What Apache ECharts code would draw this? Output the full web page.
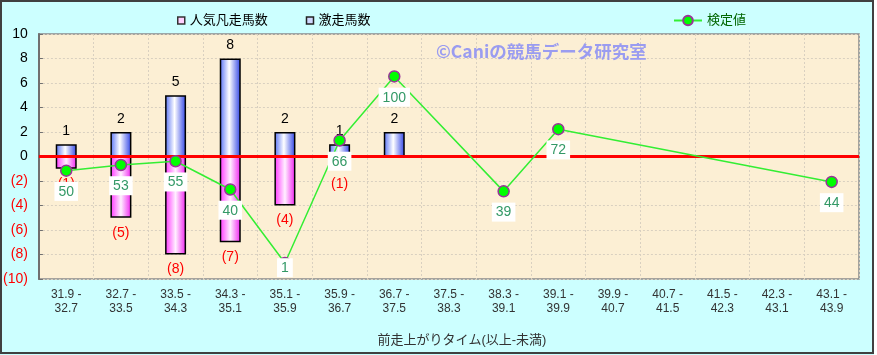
<!DOCTYPE html>
<html>
<head>
<meta charset="utf-8">
<script src="https://cdn.jsdelivr.net/npm/echarts@6/dist/echarts.min.js"></script>
<style>
  html, body { margin: 0; padding: 0; background: #ffffff; }
  #chart { width: 877px; height: 355px; }
</style>
</head>
<body>
<div id="chart"></div>
<script>
// 前走上がりタイム（以上-未満）
const categories = [
  '31.9 -\n32.7', '32.7 -\n33.5', '33.5 -\n34.3', '34.3 -\n35.1', '35.1 -\n35.9',
  '35.9 -\n36.7', '36.7 -\n37.5', '37.5 -\n38.3', '38.3 -\n39.1', '39.1 -\n39.9',
  '39.9 -\n40.7', '40.7 -\n41.5', '41.5 -\n42.3', '42.3 -\n43.1', '43.1 -\n43.9'
];
// 激走馬数
const gekisou = [1, 2, 5, 8, 2, 1, 2, null, null, 1, null, null, null, null, null];
// 人気凡走馬数 (下向きに描く)
const ninkiBonsou = [1, 5, 8, 7, 4, 1, null, null, null, null, null, null, null, null, null];
// 検定値
const kentei = [50, 53, 55, 40, 1, 66, 100, null, 39, 72, null, null, null, null, 44];
const yTicks = [-10, -8, -6, -4, -2, 0, 2, 4, 6, 8, 10];

const font = "'Liberation Sans', 'Noto Sans CJK JP', sans-serif";

const chart = echarts.init(document.getElementById('chart'));

const blueGrad = new echarts.graphic.LinearGradient(0, 0, 1, 0, [
  { offset: 0, color: '#5570f5' },
  { offset: 0.45, color: '#ffffff' },
  { offset: 1, color: '#2e42e6' }
]);
const pinkGrad = new echarts.graphic.LinearGradient(0, 0, 1, 0, [
  { offset: 0, color: '#ff33ff' },
  { offset: 0.5, color: '#fff0ff' },
  { offset: 1, color: '#f020f0' }
]);

const option = {
  backgroundColor: '#ccffff',
  textStyle: { fontFamily: font },
  animation: false,
  graphic: [
    {
      type: 'text',
      left: 436,
      top: 43,
      z: 1,
      style: {
        text: '©Caniの競馬データ研究室',
        fill: '#9a9cf0',
        font: "bold 17.5px 'Noto Sans CJK JP', sans-serif"
      }
    },
    {
      type: 'rect',
      z: 100,
      shape: { x: 1, y: 1, width: 872, height: 352 },
      style: { fill: 'none', stroke: '#404040', lineWidth: 2 }
    },
    {
      type: 'rect',
      z: 100,
      shape: { x: 874, y: 0, width: 3, height: 355 },
      style: { fill: '#ffffff' }
    }
  ],
  legend: [
    {
      left: 172,
      top: 9,
      itemWidth: 7,
      itemHeight: 7,
      itemGap: 38,
      textStyle: { fontSize: 13, color: '#000', fontFamily: font },
      data: [
        { name: '人気凡走馬数', icon: 'rect', itemStyle: { color: '#ffd0ff', borderColor: '#333', borderWidth: 1.5 } },
        { name: '激走馬数', icon: 'rect', itemStyle: { color: '#d0d8ff', borderColor: '#222', borderWidth: 1.5 } }
      ]
    },
    {
      left: 668,
      top: 9,
      itemWidth: 28,
      itemHeight: 12,
      textStyle: { fontSize: 13, color: '#006600', fontFamily: font },
      data: ['検定値']
    }
  ],
  grid: {
    left: 35,
    right: 18,
    top: 34,
    bottom: 76,
    show: true,
    backgroundColor: '#fcefd4',
    borderColor: '#8a8a8a',
    borderWidth: 1.5
  },
  xAxis: {
    type: 'category',
    data: categories,
    boundaryGap: true,
    name: '前走上がりタイム(以上-未満)',
    nameLocation: 'middle',
    nameGap: 55,
    nameTextStyle: { fontSize: 13, color: '#333', padding: [0, 0, 0, 26] },
    axisLine: { lineStyle: { color: '#707070', width: 2 } },
    axisTick: { show: false },
    axisLabel: { color: '#333', fontSize: 12, lineHeight: 14, margin: 9, interval: 0 },
    splitLine: { show: true, lineStyle: { color: '#d9d0c0', type: [2, 2], width: 1 } }
  },
  yAxis: [
    {
      type: 'value',
      min: -10,
      max: 10,
      interval: 2,
      axisLine: { show: true, lineStyle: { color: '#707070', width: 2 } },
      axisTick: { show: true, inside: true, length: 4, lineStyle: { color: '#707070' } },
      axisLabel: {
        fontSize: 14,
        margin: 11,
        customValues: yTicks,
        formatter: v => (v < 0 ? '(' + (-v) + ')' : String(v)),
        color: v => (Number(v) < 0 ? '#ff0000' : '#000000')
      },
      splitLine: { show: true, lineStyle: { color: '#d9d0c0', type: [2, 2], width: 1 } }
    },
    {
      type: 'value',
      min: -7.5,
      max: 122.5,
      show: false,
      splitLine: { show: false }
    }
  ],
  series: [
    {
      name: '激走馬数',
      type: 'bar',
      stack: 'cnt',
      barWidth: 21,
      data: gekisou.map((v, i) => (i === 9 ? { value: v, label: { show: false } } : v)),
      itemStyle: { color: blueGrad, borderColor: '#000', borderWidth: 1.5 },
      label: { show: true, position: 'top', distance: 6, color: '#000', fontSize: 14 },
      markLine: {
        silent: true,
        symbol: 'none',
        label: { show: false },
        lineStyle: { color: '#ff0000', width: 3, type: 'solid' },
        data: [{ yAxis: 0 }]
      }
    },
    {
      name: '人気凡走馬数',
      type: 'bar',
      stack: 'cnt',
      barWidth: 21,
      data: ninkiBonsou.map(v => (v == null ? null : -v)),
      itemStyle: { color: pinkGrad, borderColor: '#000', borderWidth: 1.5 },
      label: {
        show: true,
        position: 'bottom',
        distance: 8,
        color: '#ff0000',
        fontSize: 14,
        formatter: p => '(' + (-p.value) + ')'
      }
    },
    {
      name: '検定値',
      type: 'line',
      yAxisIndex: 1,
      connectNulls: true,
      data: kentei.map((v, i) => (i === 4 ? { value: v, label: { offset: [0, -16] } } : v)),
      symbol: 'circle',
      symbolSize: 11,
      z: 5,
      lineStyle: { color: '#33ee33', width: 1.5 },
      itemStyle: { color: '#00ff00', borderColor: '#993399', borderWidth: 1.5 },
      label: {
        show: true,
        position: 'bottom',
        distance: 5,
        color: '#339966',
        fontSize: 14,
        backgroundColor: '#ffffff',
        padding: [3, 4, 2, 4]
      }
    }
  ]
};

chart.setOption(option);
</script>
</body>
</html>
